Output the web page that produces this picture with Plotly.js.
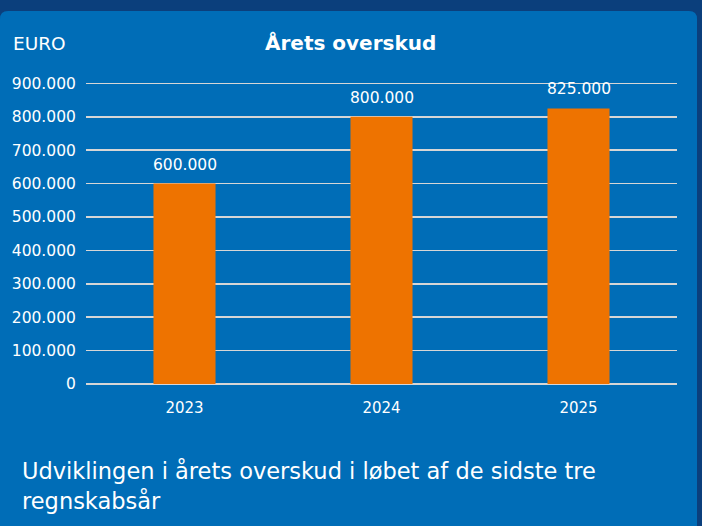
<!DOCTYPE html>
<html><head><meta charset="utf-8">
<script src="https://cdn.plot.ly/plotly-3.0.1.min.js"></script>
<style>html,body{margin:0;padding:0;background:#0b3f7c;}#chart{width:702px;height:526px;}</style>
</head><body><div id="chart"></div>
<script>
const years = ['2023', '2024', '2025'];
const profit = [600000, 800000, 825000];
const profitLabels = ['600.000', '800.000', '825.000'];
const titleText = 'Årets overskud';
const unitText = 'EURO';
const captionLines = ['Udviklingen i årets overskud i løbet af de sidste tre', 'regnskabsår'];

const W = 702, H = 526, L = 86, R = 25, T = 80, B = 142;
const pw = W - L - R, ph = H - T - B;
const px = x => (x - L) / pw;
const py = y => (H - B - y) / ph;

const FONT = '"DejaVu Sans", sans-serif';
const card = (() => {
  const x0 = 0, x1 = 697, y0 = 11, y1 = 540, r = 8;
  return `M ${px(x0)} ${py(y0 + r)} Q ${px(x0)} ${py(y0)} ${px(x0 + r)} ${py(y0)} L ${px(x1 - r)} ${py(y0)} Q ${px(x1)} ${py(y0)} ${px(x1)} ${py(y0 + r)} L ${px(x1)} ${py(y1)} L ${px(x0)} ${py(y1)} Z`;
})();

const trace = {
  type: 'bar', x: years, y: profit,
  marker: {color: '#EE7300'},
  hoverinfo: 'skip'
};

const layout = {
  width: W, height: H,
  margin: {l: L, r: R, t: T, b: B},
  paper_bgcolor: '#0b3f7c', plot_bgcolor: 'rgba(0,0,0,0)',
  separators: ',.',
  bargap: 0.685,
  showlegend: false,
  font: {family: FONT, color: '#ffffff'},
  xaxis: {
    type: 'category', categoryorder: 'array', categoryarray: years, range: [-0.5, 2.5],
    showgrid: false, zeroline: false, showline: false,
    ticks: 'outside', ticklen: 10, tickcolor: 'rgba(0,0,0,0)',
    tickfont: {size: 15, color: '#ffffff', family: FONT}
  },
  yaxis: {
    range: [0, 910000], dtick: 100000, tick0: 0, tickformat: ',.0f',
    showgrid: true, gridcolor: '#d6d6d6', gridwidth: 1.5,
    zeroline: true, zerolinecolor: '#d6d6d6', zerolinewidth: 1.5,
    showline: false, ticks: 'outside', ticklen: 6, tickcolor: 'rgba(0,0,0,0)',
    tickfont: {size: 15.5, color: '#ffffff', family: FONT}
  },
  shapes: [{type: 'path', path: card, xref: 'paper', yref: 'paper', fillcolor: '#006DB7', line: {width: 0}, layer: 'below'}],
  annotations: [
    ...years.map((yr, i) => ({
      x: i, y: profit[i], xref: 'x', yref: 'y', text: profitLabels[i],
      xanchor: 'center', yanchor: 'bottom', yshift: 8, showarrow: false,
      font: {size: 15.5, color: '#ffffff', family: FONT}
    })),
    {text: '<b>' + titleText + '</b>', xref: 'paper', yref: 'paper', x: px(350), y: py(43), xanchor: 'center', yanchor: 'middle', showarrow: false, font: {size: 20, color: '#ffffff', family: FONT}},
    {text: unitText, xref: 'paper', yref: 'paper', x: px(11), y: py(44), xanchor: 'left', yanchor: 'middle', showarrow: false, font: {size: 18.5, color: '#ffffff', family: FONT}},
    {text: captionLines[0], xref: 'paper', yref: 'paper', x: px(20), y: py(470), xanchor: 'left', yanchor: 'middle', showarrow: false, font: {size: 22.5, color: '#ffffff', family: FONT}},
    {text: captionLines[1], xref: 'paper', yref: 'paper', x: px(20), y: py(500), xanchor: 'left', yanchor: 'middle', showarrow: false, font: {size: 22.5, color: '#ffffff', family: FONT}}
  ]
};

Plotly.newPlot('chart', [trace], layout, {displayModeBar: false, staticPlot: true});
</script></body></html>
